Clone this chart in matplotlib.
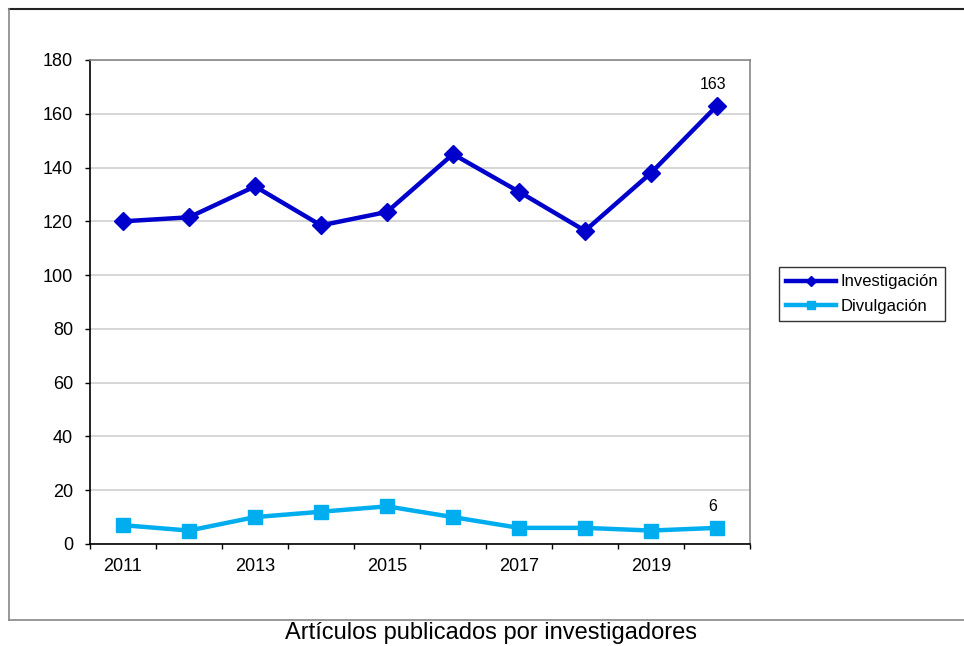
import matplotlib
matplotlib.use("Agg")
import matplotlib.pyplot as plt
from matplotlib.lines import Line2D

plt.rcParams['font.family'] = ['Liberation Sans', 'DejaVu Sans']

years = ["2011", "2012", "2013", "2014", "2015", "2016", "2017", "2018", "2019", "2020"]
investigacion = [120, 121.5, 133, 118.5, 123.5, 145, 131, 116.5, 138, 163]
divulgacion = [7, 5, 10, 12, 14, 10, 6, 6, 5, 6]
y_ticks = [0, 20, 40, 60, 80, 100, 120, 140, 160, 180]

W, H = 964, 646
fig = plt.figure(figsize=(W / 100, H / 100), dpi=100)

# outer chart frame
fig.add_artist(Line2D([9 / W, 1.0], [1 - 9 / H, 1 - 9 / H], color="#222222", lw=1.5, transform=fig.transFigure))
fig.add_artist(Line2D([9 / W, 9 / W], [1 - 9 / H, 1 - 620 / H], color="#888888", lw=1.2, transform=fig.transFigure))
fig.add_artist(Line2D([9 / W, 1.0], [1 - 620 / H, 1 - 620 / H], color="#888888", lw=1.2, transform=fig.transFigure))

ax = fig.add_axes([90 / W, 1 - 544 / H, (750 - 90) / W, (544 - 60) / H])
x = list(range(len(years)))

ax.plot(x, investigacion, color="#0000CC", lw=3.2, marker="D", ms=9.5, label="Investigación", zorder=3)
ax.plot(x, divulgacion, color="#00AEEF", lw=3.2, marker="s", ms=10, label="Divulgación", zorder=3)

ax.annotate(f"{investigacion[-1]:g}", (x[-1], investigacion[-1]), xytext=(-3, 10), textcoords="offset points",
            ha="center", va="bottom", fontsize=11.5)
ax.annotate(f"{divulgacion[-1]:g}", (x[-1], divulgacion[-1]), xytext=(-3, 10), textcoords="offset points",
            ha="center", va="bottom", fontsize=11.5)

ax.set_xlim(-0.5, len(years) - 0.5)
ax.set_ylim(0, 180)
ax.set_yticks(y_ticks)
ax.set_yticklabels([str(v) for v in y_ticks], fontsize=13)
ax.yaxis.grid(True, color="#D0D0D0", lw=1.2)
ax.set_axisbelow(True)

# category boundaries as ticks, labels on every other category
ax.set_xticks([i - 0.5 for i in range(len(years) + 1)])
ax.set_xticklabels([])
ax.set_xticks(x[::2], minor=True)
ax.set_xticklabels(years[::2], minor=True, fontsize=13)
ax.tick_params(axis="x", which="major", direction="out", length=3.6, width=1, color="black")
ax.tick_params(axis="x", which="minor", length=0, pad=10)
ax.tick_params(axis="y", direction="out", length=3.6, width=1, pad=8.5)

for side in ("left", "bottom"):
    ax.spines[side].set_color("black")
    ax.spines[side].set_linewidth(1.2)
for side in ("top", "right"):
    ax.spines[side].set_color("#888888")
    ax.spines[side].set_linewidth(1.2)

leg = fig.legend(loc="center", bbox_to_anchor=(862 / W, 1 - 294 / H), fontsize=12,
                 frameon=True, fancybox=False, edgecolor="black", handlelength=3.0,
                 handletextpad=0.25, labelspacing=0.55, borderpad=0.45, markerscale=0.55)
leg.get_frame().set_linewidth(1.0)

fig.text(491 / W, 1 - 633 / H, "Artículos publicados por investigadores", ha="center", va="center", fontsize=17)

fig.savefig("out.png", dpi=100)
